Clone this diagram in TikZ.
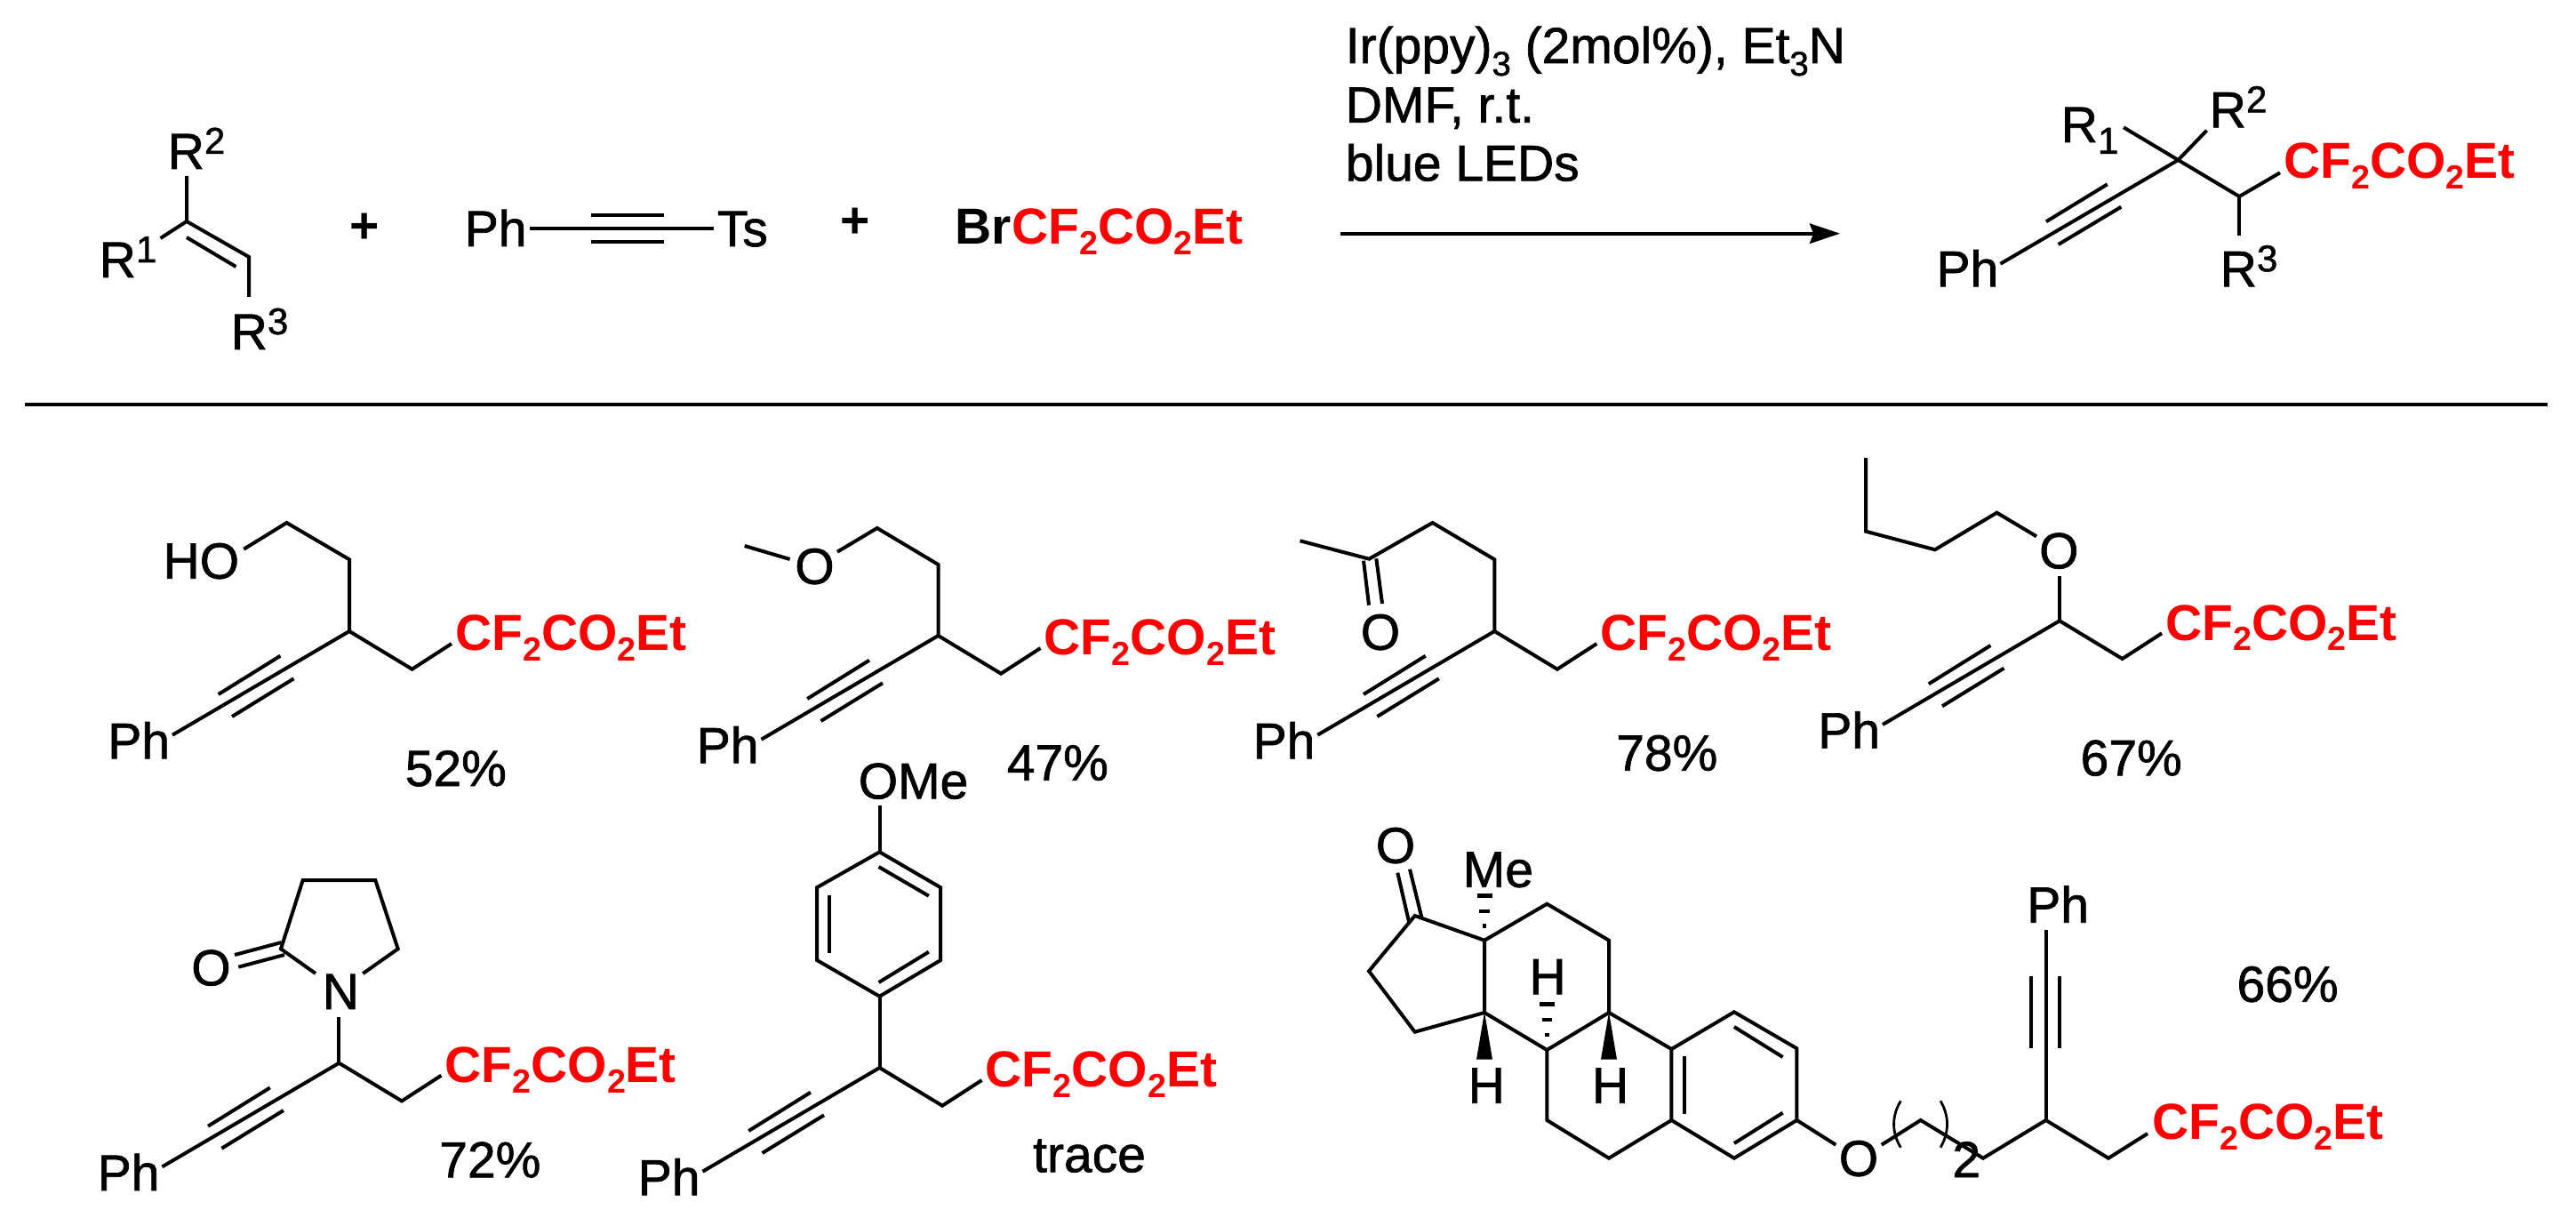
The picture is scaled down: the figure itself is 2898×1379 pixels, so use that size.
\documentclass[tikz,border=0pt]{standalone}
\usepackage{fontspec}
\setmainfont{Liberation Sans}[FakeBold=1.2, BoldFeatures={FakeBold=0}]
\usetikzlibrary{arrows.meta}
\newcommand\chemsub[1]{\raisebox{-2.9pt}{\fontsize{9.4}{10}\selectfont #1}}
\newcommand\condsub[1]{\raisebox{-3.5pt}{\fontsize{9.6}{10}\selectfont #1}}
\newcommand\chemsup[1]{\raisebox{4.25pt}{\fontsize{10.5}{11}\selectfont #1}}
\newcommand\dfgroup{\textcolor{red}{\bfseries CF\chemsub{2}CO\chemsub{2}Et}}
\tikzset{
  x=0.25pt, y=-0.25pt,
  lbl/.style={inner sep=0pt, outer sep=0pt, anchor=base west, xshift=-0.8pt, font=\fontsize{14.25}{17}\selectfont},
  bond/.style={draw=black, line width=1pt, line join=miter},
  hash/.style={draw=black, line width=1.15pt},
  wedge/.style={fill=black, draw=none}
}
% propargyl arm: alkyne-Ph and CH2-CF2CO2Et around a central carbon
\newcommand\sidearm[3]{%
  \begin{scope}[shift={(#2,#3)}]
    \draw[bond] (-199,116.7) -- (0,0) -- (70.6,42.7) -- (115,14);
    \draw[bond] (-77.6,27.7) -- (-147.3,71);
    \draw[bond] (-62.5,53.3) -- (-132,96);
    \node[lbl] (#1ph) at (-268.5,143.3) {Ph};
    \node[lbl] (#1cf) at (122.4,21.7) {\dfgroup};
  \end{scope}}
\begin{document}
\begin{tikzpicture}
\useasboundingbox (0,0) rectangle (2898,1379);
\fill[white] (0,0) rectangle (2898,1379);

% --- alkene
\draw[bond] (210,198) -- (210,249) -- (280,289) -- (280,334);
\draw[bond] (210,249) -- (180.5,268);
\draw[bond] (210,267) -- (265.4,300);
\node[lbl] (rtwo) at (192,190) {R\chemsup{2}};
\node[lbl] (rone) at (115,312) {R\chemsup{1}};
\node[lbl] (rthree) at (263,393) {R\chemsup{3}};
\node[lbl] (plusa) at (397,274) {\textbf{+}};
% --- alkynyl sulfone
\node[lbl] (pha) at (526,277) {Ph};
\draw[bond] (596,257) -- (803,257);
\draw[bond] (665,242.3) -- (747,242.3);
\draw[bond] (665,271.7) -- (747,271.7);
\node[lbl] (ts) at (810,277) {Ts};
\node[lbl] (plusb) at (948.4,268) {\textbf{+}};
\node[lbl] (brcf) at (1078,275) {\textbf{Br}\dfgroup};
% --- conditions and arrow
\node[lbl] (conda) at (1517,71) {Ir(ppy)\condsub{3} (2mol\%), Et\condsub{3}N};
\node[lbl] (condb) at (1517,137.7) {DMF, r.t.};
\node[lbl] (condc) at (1517,203.3) {blue LEDs};
\coordinate (arrowa) at (1507.7,262.7);
\coordinate (arrowb) at (2070,262.7);
\draw[line width=1pt, -{Stealth[length=8.5pt, width=5.6pt, inset=1pt]}] (arrowa) -- (arrowb);
% --- general product
\draw[bond] (2250.5,296.7) -- (2450.4,180) -- (2519.2,221) -- (2565,194.3);
\draw[bond] (2450.4,180) -- (2389,143.3);
\draw[bond] (2450.4,180) -- (2482.6,146.7);
\draw[bond] (2519.2,221) -- (2519.2,265);
\draw[bond] (2370.7,207.3) -- (2301.9,249.3);
\draw[bond] (2386.3,232.7) -- (2315.6,275);
\node[lbl] (prone) at (2322,160) {R\raisebox{-3.2pt}{\fontsize{10.5}{11}\selectfont 1}};
\node[lbl] (prtwo) at (2489,143.3) {R\chemsup{2}};
\node[lbl] (prcf) at (2572.4,201) {\dfgroup};
\node[lbl] (prthree) at (2501,322.3) {R\chemsup{3}};
\node[lbl] (prph) at (2181.7,322.3) {Ph};
% --- rule
\coordinate (rulea) at (28,455);
\coordinate (ruleb) at (2866,455);
\draw[line width=1.15pt] (rulea) -- (ruleb);

% --- compound 1
\sidearm{ma}{393}{710}
\draw[bond] (393,710) -- (393,629.3) -- (322.5,588) -- (274.3,617.7);
\node[lbl] (hoa) at (186.8,650.7) {HO};
\node[lbl] (ya) at (459,884) {52\%};

% --- compound 2
\sidearm{mb}{1055.5}{715}
\draw[bond] (1055.5,715) -- (1055.5,635) -- (986.8,594) -- (942,620.7);
\draw[bond] (888.6,629) -- (837.7,614);
\node[lbl] (ob) at (897.5,656.7) {O};
\node[lbl] (yb) at (1136,877.7) {47\%};

% --- compound 3
\sidearm{mc}{1681.3}{710}
\draw[bond] (1681.3,710) -- (1681.3,629.3) -- (1611.6,588) -- (1540.2,628.7) -- (1462.5,608.3);
\draw[bond] (1534,630.7) -- (1540,680.7);
\draw[bond] (1548.3,628.3) -- (1555,679);
\node[lbl] (oc) at (1534,730.7) {O};
\node[lbl] (yc) at (1821.4,866.7) {78\%};

% --- compound 4
\sidearm{md}{2317}{698.3}
\draw[bond] (2317,698.3) -- (2317,648.3);
\draw[bond] (2291,603.3) -- (2246.4,576.7) -- (2176.8,618.3) -- (2099,597.7) -- (2099,515);
\node[lbl] (od) at (2297.3,639.3) {O};
\node[lbl] (yd) at (2343.8,872.3) {67\%};

% --- compound 5
\sidearm{me}{381.4}{1195.7}
\draw[bond] (381.4,1195.7) -- (381.4,1144);
\node[lbl] (ne) at (366,1135) {N};
\draw[bond] (355,1095) -- (316,1067.3) -- (340.7,990) -- (422.3,990) -- (447.7,1067.3) -- (408.3,1095);
\draw[bond] (316.7,1060) -- (264,1074);
\draw[bond] (320,1074) -- (268.3,1087.7);
\node[lbl] (oe) at (218.5,1108.3) {O};
\node[lbl] (ye) at (497.5,1324.3) {72\%};

% --- compound 6
\sidearm{mf}{989.5}{1201}
\draw[bond] (989.5,1201) -- (989.5,1120.7);
\draw[bond] (989.5,1120.7) -- (1058.2,1080) -- (1058.2,998.3) -- (989.5,958.3) -- (919,998.3) -- (919,1080) -- cycle;
\draw[bond] (988.6,975) -- (1044.8,1007.7);
\draw[bond] (933.2,1006.7) -- (933.2,1071.7);
\draw[bond] (1044.8,1070.7) -- (988.6,1105);
\draw[bond] (989.5,958.3) -- (989.5,906);
\node[lbl] (omef) at (969,898.3) {OMe};
\node[lbl] (yf) at (1165.4,1318.3) {trace};

% --- steroid
\draw[bond] (1670,1057.7) -- (1591.7,1030) -- (1540,1092.3) -- (1591.7,1160.7) -- (1670,1139) -- cycle;
\draw[bond] (1670,1057.7) -- (1740.3,1016.7) -- (1810,1057.7) -- (1810,1139) -- (1740.3,1181) -- (1670,1139);
\draw[bond] (1810,1139) -- (1880.4,1180) -- (1880.4,1260) -- (1810,1302.7) -- (1740.3,1260) -- (1740.3,1181);
\draw[bond] (1880.4,1180) -- (1950.9,1138.3) -- (2021.4,1179.3) -- (2021.4,1260) -- (1950.9,1302.7) -- (1880.4,1260);
\draw[bond] (1950.9,1155) -- (2005.6,1189);
\draw[bond] (1895.3,1188.3) -- (1895.3,1252.7);
\draw[bond] (2005.6,1251.7) -- (1950.9,1286);
\draw[bond] (1572.3,981.7) -- (1585,1036.7);
\draw[bond] (1586,977.7) -- (1599.3,1031.7);
\node[lbl] (oz) at (1551,970.7) {O};
\node[lbl] (mez) at (1649,997.7) {Me};
% hashed bonds
\draw[hash] (1661.5,1007.3) -- (1678.5,1007.3);
\draw[hash] (1664.3,1025) -- (1675.7,1025);
\draw[hash] (1667.7,1041.7) -- (1672.3,1041.7);
\draw[hash] (1731.8,1129.3) -- (1748.8,1129.3);
\draw[hash] (1734.6,1147) -- (1746,1147);
\draw[hash] (1738,1164) -- (1742.6,1164);
\node[lbl] (hz) at (1723.7,1118.3) {H};
% wedges
\fill[wedge] (1670,1138.3) -- (1679,1191.7) -- (1661,1191.7) -- cycle;
\fill[wedge] (1810,1138.3) -- (1819,1191.7) -- (1801,1191.7) -- cycle;
\node[lbl] (hx) at (1654.9,1240.7) {H};
\node[lbl] (hy) at (1794.2,1240.7) {H};
% tether
\draw[bond] (2021.4,1260) -- (2065.3,1287.7);
\node[lbl] (oy) at (2072,1322.7) {O};
\draw[bond] (2116.7,1287.7) -- (2160.7,1260) -- (2231,1302.7) -- (2301.6,1260) -- (2372,1302.7) -- (2416,1275);
\draw[line width=0.7pt] (2138.3,1238.3) .. controls (2128,1255) and (2128,1274) .. (2138.3,1290.7);
\draw[line width=0.7pt] (2183,1238.3) .. controls (2193,1255) and (2193,1274) .. (2183,1290.7);
\node[lbl] (twoz) at (2199.6,1324) {2};
\draw[bond] (2301.6,1260) -- (2301.6,1046);
\draw[bond] (2285,1098.3) -- (2285,1179.3);
\draw[bond] (2316.5,1098.3) -- (2316.5,1179.3);
\node[lbl] (phz) at (2283.4,1037.7) {Ph};
\node[lbl] (cfz) at (2424.3,1281.7) {\dfgroup};
\node[lbl] (yz) at (2519.7,1126.7) {66\%};
\end{tikzpicture}
\end{document}
